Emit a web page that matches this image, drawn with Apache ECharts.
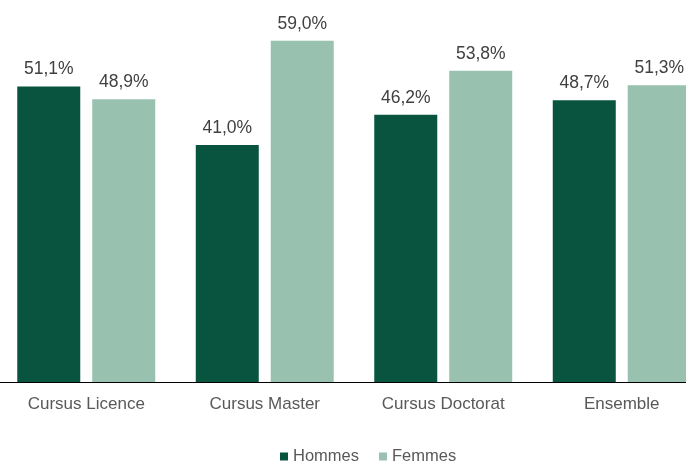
<!DOCTYPE html>
<html><head><meta charset="utf-8">
<script src="https://cdn.jsdelivr.net/npm/echarts@6/dist/echarts.min.js"></script>
<style>html,body{margin:0;padding:0;background:#fff}#c{width:686px;height:463px}</style>
</head><body><div id="c"></div>
<script>
const categories = ['Cursus Licence', 'Cursus Master', 'Cursus Doctorat', 'Ensemble'];
const hommes = [51.1, 41.0, 46.2, 48.7];
const femmes = [48.9, 59.0, 53.8, 51.3];
const seriesNames = ['Hommes', 'Femmes'];

const chart = echarts.init(document.getElementById('c'));
const fmt = p => p.value.toFixed(1).replace('.', ',') + '%';
const FF = 'Liberation Sans, Arial, sans-serif';
const lbl = {show: true, position: 'top', distance: 8, formatter: fmt, color: '#404040', fontSize: 17.5, fontFamily: FF};
chart.setOption({
  animation: false,
  grid: {left: -3, width: 714, top: 35, bottom: 81, containLabel: false, outerBoundsMode: 'none'},
  xAxis: {
    type: 'category', data: categories,
    axisLine: {lineStyle: {color: '#000', width: 1}},
    axisTick: {show: false},
    axisLabel: {color: '#595959', fontSize: 17, margin: 14, fontFamily: FF}
  },
  yAxis: {type: 'value', min: 0, max: 60, show: false, splitLine: {show: false}},
  legend: {
    left: 275, top: 443, itemWidth: 8, itemHeight: 8, itemGap: 20,
    icon: 'rect',
    textStyle: {color: '#595959', fontSize: 16.5, fontFamily: FF},
    data: seriesNames
  },
  series: [
    {name: seriesNames[0], type: 'bar', data: hommes, barWidth: 63, barGap: '19%', itemStyle: {color: '#08543F'}, label: lbl},
    {name: seriesNames[1], type: 'bar', data: femmes, barWidth: 63, itemStyle: {color: '#98C2AF'}, label: lbl}
  ]
});
</script></body></html>
